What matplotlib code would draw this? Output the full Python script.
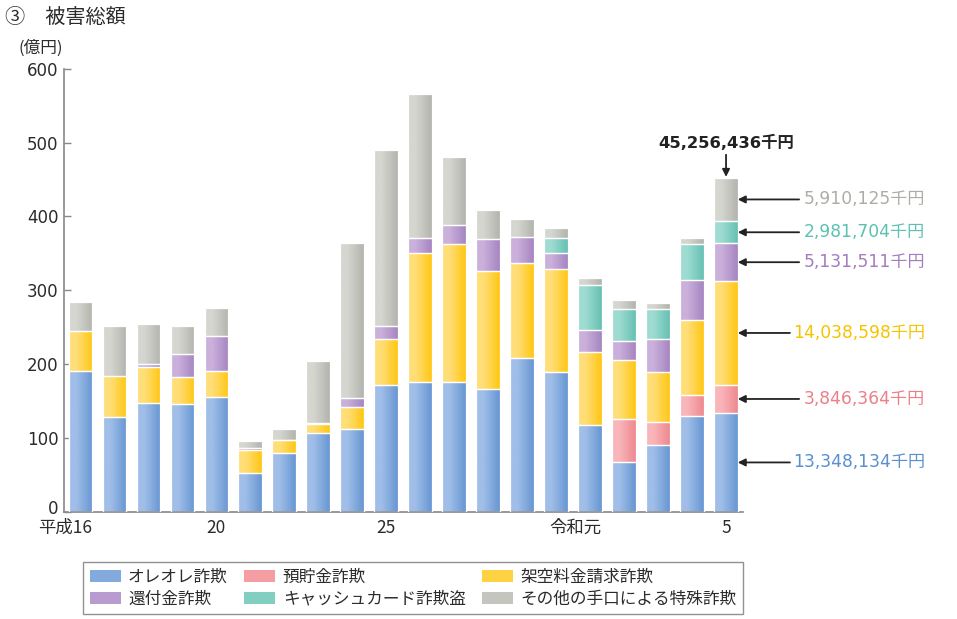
import numpy as np
import matplotlib
matplotlib.use('Agg')
import matplotlib.pyplot as plt
import matplotlib.transforms as mtransforms
from matplotlib.colors import LinearSegmentedColormap
from matplotlib.patches import Patch

# ---- data (億円) ----
years = ['平成16', '17', '18', '19', '20', '21', '22', '23', '24', '25',
         '26', '27', '28', '29', '30', '令和元', '2', '3', '4', '5']
shown_ticks = ['平成16', '20', '25', '令和元', '5']

oreore   = [191.1, 127.7, 146.9, 145.5, 154.8, 52.2, 79.3, 106.8, 111.9, 171.6,
            175.3, 175.8, 166.7, 208.2, 189.6, 117.0, 67.1, 90.2, 129.3, 133.48134]
yochokin = [0, 0, 0, 0, 0, 0, 0, 0, 0, 0,
            0, 0, 0, 0, 0, 0, 59.0, 31.3, 28.5, 38.46364]
kakuu    = [53.7, 56.4, 48.9, 37.2, 36.3, 31.7, 17.7, 11.6, 29.8, 62.9,
            175.3, 186.9, 158.9, 128.3, 138.7, 99.8, 79.8, 68.1, 102.5, 140.38598]
kanpu    = [0, 0, 4.7, 30.4, 46.7, 2.3, 0.8, 1.4, 12.1, 16.8,
            20.5, 25.2, 43.9, 35.8, 21.8, 29.9, 25.4, 44.9, 54.0, 51.31511]
cash     = [0, 0, 0, 0, 0, 0, 0, 0, 0, 0,
            0, 0, 0, 0, 20.4, 59.9, 43.5, 40.3, 48.1, 29.81704]
sonota   = [39.1, 67.2, 53.6, 38.2, 37.7, 9.8, 14.9, 83.9, 209.8, 238.2,
            194.4, 93.2, 39.2, 24.5, 13.6, 9.5, 11.8, 7.7, 9.0, 59.10125]

series_names = ['オレオレ詐欺', '預貯金詐欺', '架空料金請求詐欺',
                '還付金詐欺', 'キャッシュカード詐欺盗', 'その他の手口による特殊詐欺']
series = [oreore, yochokin, kakuu, kanpu, cash, sonota]

light = ['#a0bee8', '#f9b6ba', '#ffde78', '#cab0db', '#9edcd2', '#d5d6d0']
dark  = ['#6796d2', '#ee8890', '#ffc713', '#a585c1', '#66c0b2', '#b3b4ad']
mid   = ['#84aadd', '#f49ea4', '#ffd243', '#b89bcf', '#82cfc2', '#c4c5bf']
label_colors = ['#5a8fd0', '#ec7f88', '#f5c300', '#a57cc0', '#5cc1b2', '#adada7']

plt.rcParams['font.family'] = ['DejaVu Sans', 'Noto Sans CJK JP']
JP = ['Noto Sans CJK JP', 'DejaVu Sans']
TXT = '#2b2b2b'

fig = plt.figure(figsize=(9.57, 6.19), dpi=100)
ax = fig.add_axes([64.3 / 957, 1 - 511.7 / 619, (742.7 - 64.3) / 957, (511.7 - 68.8) / 619])

x = np.arange(len(years))
width = 0.69
bottom = np.zeros(len(years))
grad = np.linspace(0, 1, 64).reshape(1, -1)
for vals, lc, dc in zip(series, light, dark):
    vals = np.asarray(vals, dtype=float)
    bars = ax.bar(x, vals, width, bottom=bottom, color=dc,
                  edgecolor='white', linewidth=0.9, zorder=2)
    cmap = LinearSegmentedColormap.from_list('g', [(0, lc), (0.3, lc), (1.0, dc)])
    for b, v in zip(bars, vals):
        if v <= 0:
            continue
        x0, y0 = b.get_x(), b.get_y()
        im = ax.imshow(grad, cmap=cmap, aspect='auto', zorder=2.5,
                       extent=(x0, x0 + b.get_width(), y0, y0 + b.get_height()),
                       interpolation='bilinear')
        im.set_clip_path(b)
        ax.bar(x0 + b.get_width() / 2, v, b.get_width(), bottom=y0, color='none',
               edgecolor='white', linewidth=0.9, zorder=3)
    bottom += vals

ax.set_xlim(-0.47, 19.49)
ax.set_ylim(0, 600)
ax.set_yticks(np.arange(0, 601, 100))
ax.tick_params(axis='y', direction='in', length=5, width=1, color='#888888',
               labelsize=12, labelcolor=TXT, pad=4)
ylabs = ax.get_yticklabels()
ylabs[0].set_transform(ylabs[0].get_transform() +
                       mtransforms.ScaledTranslation(0, 5 / 100, fig.dpi_scale_trans))
tick_pos = [years.index(t) for t in shown_ticks]
ax.set_xticks(tick_pos)
ax.set_xticklabels(shown_ticks, fontfamily=JP)
ax.tick_params(axis='x', length=0, labelsize=12.5, labelcolor=TXT, pad=5)
# shift multi-character labels so the numeral sits under the bar
for lab in ax.get_xticklabels():
    if len(lab.get_text()) > 2:
        lab.set_transform(lab.get_transform() +
                          mtransforms.ScaledTranslation(-15 / 100, 0, fig.dpi_scale_trans))
for s in ['top', 'right']:
    ax.spines[s].set_visible(False)
for s in ['left', 'bottom']:
    ax.spines[s].set_color('#888888')
    ax.spines[s].set_linewidth(1.2)

# ---- annotations for the last year ----
last = len(years) - 1
vals_last = [s[last] for s in series]
cum = np.cumsum([0] + vals_last)
xr = last + width / 2
for i, (v, c) in enumerate(zip(vals_last, label_colors)):
    ymid = (cum[i] + cum[i + 1]) / 2
    txt = f"{round(v * 1e5):,}千円"
    tail = 21.15 if len(txt) < 12 else 20.88
    ax.annotate('', xy=(xr, ymid), xytext=(tail, ymid),
                arrowprops=dict(arrowstyle='-|>', color='#222222', lw=1.3,
                                mutation_scale=11, shrinkA=0, shrinkB=0),
                annotation_clip=False)
    ax.text(24.85, ymid, txt, ha='right', va='center', color=c,
            fontsize=12.3, clip_on=False)

total = cum[-1]
ax.annotate('', xy=(last, total + 1), xytext=(last, total + 31),
            arrowprops=dict(arrowstyle='-|>', color='#222222', lw=1.3,
                            mutation_scale=11, shrinkA=0, shrinkB=0),
            annotation_clip=False)
ax.text(last, total + 47, f"{round(total * 1e5):,}千円", ha='center', va='center',
        fontsize=11.8, fontweight='bold', color='#222222', clip_on=False)

# ---- titles ----
fig.text(5 / 957, 1 - 17 / 619, '③　被害総額', ha='left', va='center',
         fontsize=14.5, color=TXT, family=JP)
fig.text(19 / 957, 1 - 48 / 619, '(億円)', ha='left', va='center',
         fontsize=12, color=TXT, family=JP)

# ---- legend ----
order = [0, 3, 1, 4, 2, 5]
handles = [Patch(facecolor=mid[i], edgecolor='none', label=series_names[i]) for i in order]
leg = fig.legend(handles=handles, ncol=3, loc='upper left',
                 bbox_to_anchor=(83 / 957, 1 - 562 / 619),
                 prop={'family': JP, 'size': 12}, frameon=True, fancybox=False,
                 edgecolor='#777777', handlelength=1.85, handleheight=0.75,
                 handletextpad=0.45, columnspacing=1.0, labelspacing=0.3,
                 borderpad=0.4, borderaxespad=0)
leg.get_frame().set_linewidth(1.0)
for t in leg.get_texts():
    t.set_color(TXT)

fig.savefig('out.png', dpi=100, facecolor='white')
